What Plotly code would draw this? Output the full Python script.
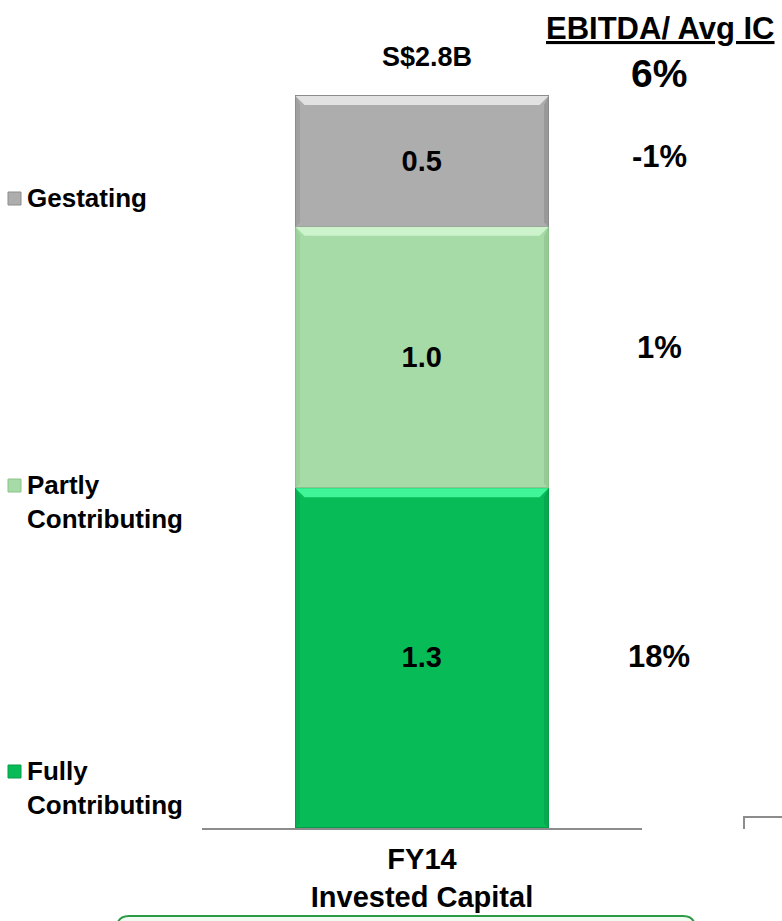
import plotly.graph_objects as go

# ---------------- data ----------------
categories = ["FY14"]
category_label = "<b>FY14<br>Invested Capital</b>"
segments = ["Fully Contributing", "Partly Contributing", "Gestating"]
legend_labels = ["Fully<br>Contributing", "Partly<br>Contributing", "Gestating"]
values = [1.3, 1.0, 0.5]
value_labels = ["1.3", "1.0", "0.5"]
ebitda_labels = ["18%", "1%", "-1%"]
total_label = "S$2.8B"
header_title = "EBITDA/ Avg IC"
header_value = "6%"

# ---------------- style ----------------
colors = ["#07bc57", "#a6daa6", "#adadad"]
highlights = ["#3ff597", "#cdf3cd", "#e2e2e2"]
edges = ["#069c48", "#8cc28c", "#8c8c8c"]
ebitda_yshift = [2, 10, 5]
W, H = 782, 921
FONT = "Liberation Sans, Arial, sans-serif"

# pixel layout of the plot area
x_left, x_right = 202, 642
y_base = 828
px_per_unit = 732 / 2.8
bar_w = 253 / (x_right - x_left)
y_max = y_base / px_per_unit


def px_x(p):
    return p / W


def px_y(p):
    return 1 - p / H


fig = go.Figure()

for seg, v, lab, c, e in zip(segments, values, value_labels, colors, edges):
    fig.add_trace(go.Bar(
        x=categories, y=[v], name=seg, width=bar_w,
        marker=dict(color=c, line=dict(color=e, width=1.5)),
        text=[lab], textposition="inside", insidetextanchor="middle",
        textfont=dict(family=FONT, size=29, color="black", weight="bold"),
        showlegend=False, hoverinfo="skip",
    ))

shapes = []
annotations = []

# bevel highlights on top of each segment + side shading
cum = 0.0
bev_y = 9 / px_per_unit
bev_x = 9 / (x_right - x_left)
for v, hcol, ecol in zip(values, highlights, edges):
    top = cum + v
    x0, x1 = -bar_w / 2, bar_w / 2
    shapes.append(dict(
        type="path", xref="x", yref="y", layer="above",
        path=f"M {x0},{top} L {x1},{top} L {x1 - bev_x},{top - bev_y} L {x0 + bev_x},{top - bev_y} Z",
        fillcolor=hcol, line=dict(width=0),
    ))
    shapes.append(dict(
        type="path", xref="x", yref="y", layer="above",
        path=f"M {x1},{top} L {x1},{cum} L {x1 - bev_x / 2},{cum + bev_y / 2} L {x1 - bev_x / 2},{top - bev_y} Z",
        fillcolor=ecol, opacity=0.6, line=dict(width=0),
    ))
    shapes.append(dict(
        type="path", xref="x", yref="y", layer="above",
        path=f"M {x0},{top} L {x0},{cum} L {x0 + bev_x / 2},{cum + bev_y / 2} L {x0 + bev_x / 2},{top - bev_y} Z",
        fillcolor=ecol, opacity=0.4, line=dict(width=0),
    ))
    cum = top

total = sum(values)

# EBITDA / Avg IC labels beside each segment
cum = 0.0
for v, lab, ys in zip(values, ebitda_labels, ebitda_yshift):
    mid = cum + v / 2
    annotations.append(dict(
        x=px_x(659), xref="paper", y=mid, yref="y", yshift=ys,
        text=f"<b>{lab}</b>", showarrow=False, xanchor="center", yanchor="middle",
        font=dict(family=FONT, size=31, color="black"),
    ))
    cum += v

# total above the bar
annotations.append(dict(
    x=categories[0], xref="x", y=total, yref="y", xshift=5, yshift=22,
    text=f"<b>{total_label}</b>", showarrow=False, xanchor="center", yanchor="bottom",
    font=dict(family=FONT, size=27, color="black"),
))

# header
annotations.append(dict(
    x=px_x(660), xref="paper", y=px_y(28), yref="paper",
    text=f"<b><u>{header_title}</u></b>", showarrow=False, xanchor="center", yanchor="middle",
    font=dict(family=FONT, size=31, color="black"),
))
annotations.append(dict(
    x=px_x(659), xref="paper", y=px_y(73), yref="paper",
    text=f"<b>{header_value}</b>", showarrow=False, xanchor="center", yanchor="middle",
    font=dict(family=FONT, size=39, color="black"),
))

# custom left legend
legend_first_line_y = [771, 485, 198]
for lab, c, h, e, ly in zip(legend_labels, colors, highlights, edges, legend_first_line_y):
    annotations.append(dict(
        x=px_x(25), xref="paper", y=px_y(ly - 17), yref="paper",
        text=f"<b>{lab}</b>", showarrow=False, xanchor="left", yanchor="top", align="left",
        font=dict(family=FONT, size=26, color="black"),
    ))
    shapes.append(dict(
        type="rect", xref="paper", yref="paper",
        x0=px_x(8), x1=px_x(21), y0=px_y(ly - 6), y1=px_y(ly + 7),
        fillcolor=c, line=dict(color=e, width=1),
    ))

# bottom-right corner line
shapes.append(dict(
    type="path", xref="paper", yref="paper",
    path=f"M {px_x(744)},{px_y(829)} L {px_x(744)},{px_y(817)} L {px_x(782)},{px_y(817)}",
    line=dict(color="#8c8c8c", width=2),
))

# green rounded box at the bottom
r = 12
bx0, bx1, by0, by1 = 117, 695, 916, 940
shapes.append(dict(
    type="path", xref="paper", yref="paper",
    path=(f"M {px_x(bx0)},{px_y(by1)} L {px_x(bx0)},{px_y(by0 + r)} "
          f"Q {px_x(bx0)},{px_y(by0)} {px_x(bx0 + r)},{px_y(by0)} "
          f"L {px_x(bx1 - r)},{px_y(by0)} Q {px_x(bx1)},{px_y(by0)} {px_x(bx1)},{px_y(by0 + r)} "
          f"L {px_x(bx1)},{px_y(by1)} Z"),
    fillcolor="#f2fbf2", line=dict(color="#2b9a45", width=2),
))

fig.update_layout(
    width=W, height=H,
    margin=dict(l=0, r=0, t=0, b=0),
    barmode="stack", bargap=0,
    plot_bgcolor="white", paper_bgcolor="white",
    shapes=shapes, annotations=annotations,
    showlegend=False,
    xaxis=dict(
        domain=[x_left / W, x_right / W], range=[-0.5, 0.5],
        tickvals=categories, ticktext=[category_label],
        showline=True, linecolor="#8c8c8c", linewidth=2,
        showgrid=False, zeroline=False,
        ticks="outside", ticklen=4, tickcolor="rgba(0,0,0,0)",
        tickfont=dict(family=FONT, size=29, color="black"),
    ),
    yaxis=dict(
        domain=[(H - y_base) / H, 1], range=[0, y_max],
        visible=False, showgrid=False, zeroline=False,
    ),
)

fig.write_html("out.html")
